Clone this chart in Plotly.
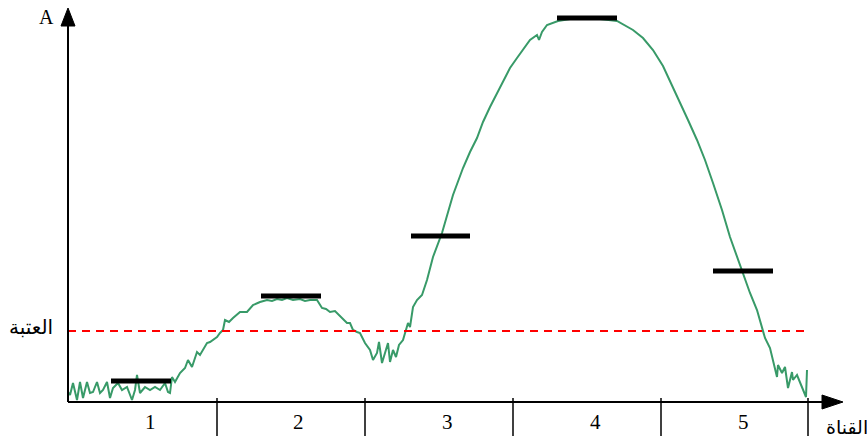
import plotly.graph_objects as go

# ---- data (sample index, amplitude) ----
sample = [0, 2, 5, 9, 12, 15, 19, 22, 25, 29, 32, 35, 39, 42, 45, 50, 54, 59, 64, 67, 69, 72, 77, 82, 87, 92, 97,
          100, 102, 104, 107, 112, 117, 120, 124, 129, 132, 135, 139, 142, 149, 152, 155, 157, 161, 165, 172,
          179, 182, 185, 192, 199, 204, 209, 214, 219, 225, 232, 237, 242, 249, 254, 258, 262, 267, 272, 275,
          279, 282, 285, 289, 292, 297, 302, 305, 309, 311, 314, 317, 320, 322, 325, 328, 331, 335, 337, 340,
          342, 345, 349, 354, 359, 365, 374, 379, 385, 395, 402, 409, 415, 422, 429, 434, 442, 449, 455, 462,
          469, 471, 474, 479, 490, 502, 517, 532, 549, 565, 575, 585, 595, 604, 612, 620, 629, 637, 645, 654,
          662, 669, 675, 682, 689, 694, 697, 702, 705, 707, 709, 710, 714, 717, 720, 724, 725, 729, 732, 735,
          738, 739]
amplitude = [10, 7, 19, 2, 20, 4, 20, 9, 10, 20, 9, 12, 20, 4, 14, 19, 12, 15, 2, 12, 27, 9, 15, 12, 15, 12, 19,
             10, 9, 25, 20, 29, 34, 42, 35, 50, 47, 52, 59, 60, 65, 69, 72, 82, 80, 84, 90,
             90, 94, 97, 100, 102, 101, 103, 102, 104, 102, 103, 101, 102, 102, 94, 93, 90, 91, 86, 84,
             79, 79, 72, 70, 69, 59, 52, 42, 49, 60, 39, 49, 59, 40, 52, 45, 57, 62, 70, 79,
             75, 95, 102, 107, 122, 145, 169, 187, 207, 234, 250, 264, 280, 295, 309, 319, 334, 344, 352, 362,
             367, 362, 370, 377, 381, 383, 384, 383, 381, 372, 364, 352, 336, 317, 300, 282, 262, 242, 219, 192,
             165, 145, 129, 109, 92, 75, 64, 54, 42, 34, 25, 37, 29, 35, 14, 30, 22, 27, 19, 12,
             5, 32]

threshold = 71

channel_labels = ["1", "2", "3", "4", "5"]
channel_label_pos = [82, 230, 379, 527, 675]
channel_bounds = [149, 297, 445, 593, 740]

level_start = [43, 193, 343, 489, 645]
level_end = [103, 253, 402, 549, 705]
level_value = [21, 106, 166, 384, 131]

x_axis_end = 775
y_axis_end = 394

SERIF = "Liberation Serif, Times New Roman, serif"
ARABIC = "DejaVu Sans, Noto Sans, serif"

# ---- figure ----
fig = go.Figure()

fig.add_trace(go.Scatter(x=sample, y=amplitude, mode="lines",
                         line=dict(color="#389a68", width=2), hoverinfo="skip"))

shapes = []
# threshold
shapes.append(dict(type="line", x0=0, x1=channel_bounds[-1], y0=threshold, y1=threshold,
                   line=dict(color="#ff0000", width=2, dash="8px,6px")))
# channel levels
for xs, xe, v in zip(level_start, level_end, level_value):
    shapes.append(dict(type="line", x0=xs, x1=xe, y0=v, y1=v, line=dict(color="black", width=5)))
# axes
shapes.append(dict(type="line", x0=0, x1=x_axis_end - 20, y0=0, y1=0, line=dict(color="black", width=2)))
shapes.append(dict(type="line", x0=0, x1=0, y0=0, y1=y_axis_end - 18, line=dict(color="black", width=2)))
shapes.append(dict(type="path",
                   path=f"M -7,{y_axis_end-18} L 7,{y_axis_end-18} L 0,{y_axis_end} Z",
                   fillcolor="black", line=dict(color="black", width=1)))
shapes.append(dict(type="path",
                   path=f"M {x_axis_end-21},7 L {x_axis_end-21},-7 L {x_axis_end},0 Z",
                   fillcolor="black", line=dict(color="black", width=1)))
# channel separators
for b in channel_bounds:
    shapes.append(dict(type="line", x0=b, x1=b, y0=4, y1=-34, line=dict(color="black", width=1.5)))

annotations = []
for lab, p in zip(channel_labels, channel_label_pos):
    annotations.append(dict(x=p, y=-20, text=lab, showarrow=False,
                            font=dict(family=SERIF, size=21, color="black"),
                            xanchor="center", yanchor="middle"))
annotations.append(dict(x=-22, y=385, text="A", showarrow=False,
                        font=dict(family=SERIF, size=20, color="black"),
                        xanchor="center", yanchor="middle"))
annotations.append(dict(x=-37, y=75, text="العتبة", showarrow=False,
                        font=dict(family=ARABIC, size=20, color="black"),
                        xanchor="center", yanchor="middle"))
annotations.append(dict(x=779, y=-25, text="القناة", showarrow=False,
                        font=dict(family=ARABIC, size=19, color="black"),
                        xanchor="center", yanchor="middle"))

fig.update_layout(
    width=867, height=439,
    margin=dict(l=0, r=0, t=0, b=0),
    paper_bgcolor="white", plot_bgcolor="white",
    showlegend=False,
    xaxis=dict(range=[-68, 799], visible=False, fixedrange=True),
    yaxis=dict(range=[-37, 402], visible=False, fixedrange=True),
    shapes=shapes, annotations=annotations,
)

fig.write_html("out.html")
